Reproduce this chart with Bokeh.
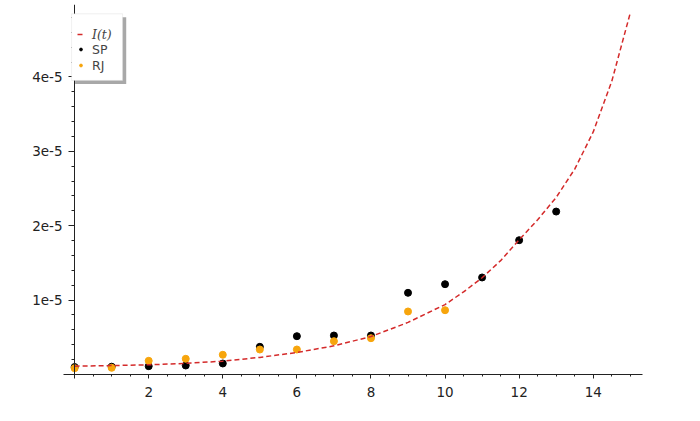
from bokeh.plotting import figure
from bokeh.models import (FixedTicker, CustomJSTickFormatter, Legend, LegendItem,
                          BoxAnnotation, Range1d, LinearAxis)
from bokeh.embed import file_html
from bokeh.resources import INLINE

# ---- data ----
t_curve = [0, 1, 2, 3, 4, 5, 6, 7, 8, 9, 10, 10.5, 11, 11.5, 12, 12.5, 13, 13.5,
           14, 14.5, 15]
I_curve = [1.12e-6, 1.2e-6, 1.3e-6, 1.5e-6, 1.79e-6, 2.3e-6, 2.96e-6, 3.85e-6,
           5.1e-6, 7.0e-6, 9.4e-6, 11.1e-6, 13.0e-6, 15.3e-6, 18.1e-6, 20.8e-6,
           23.8e-6, 27.6e-6, 32.6e-6, 39.4e-6, 48.6e-6]

t_sp = list(range(0, 14))
sp_vals = [1.0e-6, 1.05e-6, 1.12e-6, 1.21e-6, 1.48e-6, 3.72e-6, 5.15e-6, 5.24e-6,
           5.24e-6, 10.98e-6, 12.14e-6, 13.04e-6, 18.05e-6, 21.9e-6]

t_rj = list(range(0, 11))
rj_vals = [0.85e-6, 0.9e-6, 1.84e-6, 2.11e-6, 2.65e-6, 3.36e-6, 3.36e-6, 4.48e-6,
           4.88e-6, 8.47e-6, 8.64e-6]

x_major = [0, 2, 4, 6, 8, 10, 12, 14]
x_minor = [k * 0.5 for k in range(0, 31)]
y_major = [0, 1e-5, 2e-5, 3e-5, 4e-5]
y_minor = [k * 2e-6 for k in range(0, 25)]

RED = "#d42a2a"
ORANGE = "#f7a50c"
AXC = "#222222"

p = figure(width=692, height=414, output_backend="svg", toolbar_location=None,
           x_range=Range1d(-0.3, 15.33), y_range=Range1d(0, 4.973e-5),
           min_border_left=63, min_border_right=50, min_border_top=4,
           min_border_bottom=40)
p.outline_line_color = None
p.xgrid.visible = False
p.ygrid.visible = False
p.background_fill_color = "white"

sp = p.scatter(t_sp, sp_vals, size=7, color="black")
rj = p.scatter(t_rj, rj_vals, size=7, color=ORANGE)
ln = p.line(t_curve, I_curve, line_color=RED, line_width=1.5, line_dash="5 3")

# x axis (at the bottom of the frame, i.e. y = 0)
xa = p.xaxis[0]
xa.axis_line_color = AXC
xa.major_tick_line_color = AXC
xa.minor_tick_line_color = AXC
xa.major_label_text_font = "DejaVu Sans"
xa.major_label_text_font_size = "13.5px"
xa.major_label_text_color = AXC
xa.ticker = FixedTicker(ticks=x_major, minor_ticks=x_minor)
xa.formatter = CustomJSTickFormatter(code="return tick == 0 ? '' : String(tick);")
xa.major_tick_out = 4
xa.major_tick_in = 0
xa.minor_tick_out = 2
xa.minor_tick_in = 0
xa.major_label_standoff = 8

# y axis labels (attached to the frame's left side)
ya = p.yaxis[0]
ya.axis_line_color = None
ya.major_tick_line_color = None
ya.minor_tick_line_color = None
ya.major_tick_out = 0
ya.major_tick_in = 0
ya.minor_tick_out = 0
ya.minor_tick_in = 0
ya.ticker = FixedTicker(ticks=y_major, minor_ticks=[])
ya.formatter = CustomJSTickFormatter(
    code="return tick == 0 ? '' : Math.round(tick*1e5) + 'e-5';")
ya.major_label_text_font = "DejaVu Sans"
ya.major_label_text_font_size = "13.5px"
ya.major_label_text_color = AXC
ya.major_label_standoff = 1

# y axis line and ticks, crossing at x = 0
yline = LinearAxis(fixed_location=0,
                   ticker=FixedTicker(ticks=y_major, minor_ticks=y_minor),
                   formatter=CustomJSTickFormatter(code="return '';"),
                   axis_line_color=AXC, major_tick_line_color=AXC,
                   minor_tick_line_color=AXC, major_tick_out=6, major_tick_in=0,
                   minor_tick_out=3, minor_tick_in=0)
p.add_layout(yline, "left")

# legend box + shadow
p.add_layout(BoxAnnotation(left=0.0135, right=1.393, top=4.801e-5, bottom=3.905e-5,
                           fill_color="#a8a8a8", fill_alpha=1.0, line_color=None,
                           level="annotation"))
p.add_layout(BoxAnnotation(left=-0.081, right=1.296, top=4.848e-5, bottom=3.952e-5,
                           fill_color="white", fill_alpha=1.0, line_color="#cccccc",
                           line_width=1, level="annotation"))

legA = Legend(items=[LegendItem(label="I(t)", renderers=[ln])],
              location=(14, 332), label_text_font="DejaVu Serif",
              label_text_font_style="italic", label_text_font_size="12.5px",
              glyph_width=7, glyph_height=16, label_height=16, label_standoff=8,
              spacing=0, padding=0, margin=0, border_line_color=None,
              background_fill_alpha=0)
legB = Legend(items=[LegendItem(label="SP", renderers=[sp]),
                     LegendItem(label="RJ", renderers=[rj])],
              location=(14, 301), label_text_font="DejaVu Sans",
              label_text_font_size="12.5px",
              glyph_width=7, glyph_height=16, label_height=16, label_standoff=8,
              spacing=0, padding=0, margin=0, border_line_color=None,
              background_fill_alpha=0)
p.add_layout(legA)
p.add_layout(legB)

open("out.html", "w").write(file_html(p, INLINE))
